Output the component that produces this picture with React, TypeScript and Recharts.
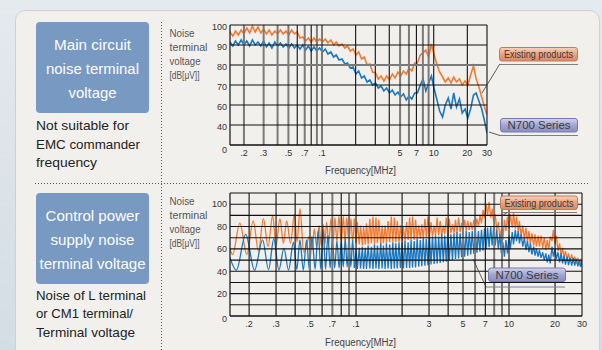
import React from 'react';
import { LineChart, Line, XAxis, YAxis, ReferenceLine } from 'recharts';

const FONT = "'Liberation Sans', Arial, Helvetica, sans-serif";
const ORANGE = '#f37a30';
const BLUE = '#1a78c2';

// ---- main circuit noise terminal voltage (MHz / dB) ----
const freqMain = [
  0.15, 0.159, 0.168, 0.178, 0.189, 0.2, 0.212, 0.225, 0.238, 0.252,
  0.267, 0.283, 0.3, 0.318, 0.336, 0.356, 0.378, 0.4, 0.424, 0.449,
  0.476, 0.504, 0.534, 0.566, 0.599, 0.635, 0.673, 0.713, 0.755, 0.8,
  0.847, 0.898, 0.951, 1.01, 1.07, 1.13, 1.2, 1.27, 1.34, 1.42,
  1.51, 1.6, 1.69, 1.79, 1.9, 2.01, 2.13, 2.26, 2.39, 2.53,
  2.68, 2.84, 3.01, 3.19, 3.38, 3.58, 3.79, 4.02, 4.26, 4.51,
  4.78, 5.06, 5.36, 5.68, 6.02, 6.37, 6.75, 7.15, 7.58, 8.03,
  8.5, 9.01, 9.54, 10.1, 10.7, 11.3, 12, 12.7, 13.5, 14.3,
  15.1, 16, 17, 18, 19.1, 20.2, 21.4, 22.7, 24, 25.4,
  26.9, 28.5, 30,
];
const existingMain = [
  96.5, 94.5, 97, 95, 97.5, 95.5, 98.5, 96, 99.5, 96.5,
  99, 96, 98, 95.5, 97.5, 95, 97, 95.5, 97.5, 95.5,
  97, 95, 97.5, 95.5, 96.5, 93.5, 94, 92, 93.5, 91.5,
  93.5, 91.5, 93, 91.5, 93, 91, 92.5, 90, 91.5, 89.5,
  90.5, 88.5, 89.5, 87, 88, 85, 86.5, 83, 84, 80,
  80.5, 76.5, 76, 73, 74.5, 72, 74.5, 72.5, 75.5, 73.5,
  76.5, 74.5, 77, 75.5, 78.5, 77, 81, 81, 85, 86,
  87.5, 84, 90.5, 85, 80, 76.5, 74, 71.5, 73.5, 71,
  74, 71.5, 73, 70, 72, 70, 75, 79.5, 73, 69,
  64, 59, 55,
];
const n700Main = [
  91.5, 89.5, 92, 90, 92.5, 90, 92, 89.5, 92.5, 90,
  91.5, 89.5, 92, 89, 91, 88.5, 91.5, 89.5, 91, 89,
  90.5, 88.5, 90.5, 88.5, 90, 88, 90, 87.5, 89.5, 87,
  89, 87, 88.5, 86.5, 88, 85.5, 86.5, 84, 85, 82.5,
  83, 80.5, 81, 78.5, 79, 75.5, 77, 73.5, 74.5, 71.5,
  72.5, 70, 71, 68.5, 69.5, 67, 68.5, 66, 67.5, 65,
  66.5, 64, 65.5, 62.5, 64.5, 63, 66, 66, 70, 73,
  67, 71, 74.5, 68, 62.5, 57, 54, 60, 63.5, 58,
  66, 59, 63, 56, 58, 53.5, 58, 65, 66, 62,
  58, 52, 46,
];

// ---- control power supply noise terminal voltage ----
// ripple peaks / troughs below 1 MHz: [MHz, dB]
const existingCtrlLow: [number, number][] = [
  [0.15, 60], [0.156, 55], [0.174, 83], [0.193, 55], [0.213, 85], [0.23, 58],
  [0.248, 87], [0.266, 62], [0.285, 90], [0.3, 63], [0.318, 87], [0.335, 65],
  [0.352, 85], [0.373, 65], [0.395, 91], [0.412, 66], [0.43, 96], [0.455, 57],
  [0.5, 72], [0.517, 60], [0.533, 78], [0.553, 62], [0.573, 81], [0.592, 63],
  [0.611, 82], [0.626, 64], [0.642, 84], [0.664, 65], [0.686, 87], [0.707, 66],
  [0.728, 88], [0.75, 66], [0.773, 89], [0.8, 66], [0.826, 89], [0.848, 66],
  [0.869, 88], [0.898, 66], [0.927, 87], [0.95, 66], [0.974, 87],
];
const n700CtrlLow: [number, number][] = [
  [0.15, 52], [0.165, 41], [0.19, 73], [0.217, 41], [0.245, 68], [0.268, 41.5],
  [0.29, 69], [0.313, 41], [0.338, 60.5], [0.362, 41], [0.39, 66], [0.41, 41.5],
  [0.43, 68], [0.452, 41], [0.475, 68], [0.495, 41.5], [0.515, 71], [0.54, 42],
  [0.566, 76], [0.588, 42], [0.61, 77], [0.632, 42], [0.655, 72], [0.677, 43],
  [0.7, 68], [0.725, 43], [0.75, 67], [0.775, 43], [0.8, 67], [0.825, 44],
  [0.85, 69], [0.875, 44], [0.9, 69], [0.925, 44], [0.95, 68], [0.975, 43],
];
// dense part from 1 MHz up
const freqCtrl = [
  1, 1.02, 1.05, 1.07, 1.1, 1.12, 1.15, 1.17, 1.2, 1.23,
  1.26, 1.29, 1.32, 1.35, 1.38, 1.41, 1.45, 1.48, 1.51, 1.55,
  1.58, 1.62, 1.66, 1.7, 1.74, 1.78, 1.82, 1.86, 1.91, 1.95,
  2, 2.04, 2.09, 2.14, 2.19, 2.24, 2.29, 2.34, 2.4, 2.45,
  2.51, 2.57, 2.63, 2.69, 2.75, 2.82, 2.88, 2.95, 3.02, 3.09,
  3.16, 3.24, 3.31, 3.39, 3.47, 3.55, 3.63, 3.72, 3.8, 3.89,
  3.98, 4.07, 4.17, 4.27, 4.37, 4.47, 4.57, 4.68, 4.79, 4.9,
  5.01, 5.13, 5.25, 5.37, 5.5, 5.62, 5.75, 5.89, 6.03, 6.17,
  6.31, 6.46, 6.61, 6.76, 6.92, 7.08, 7.24, 7.41, 7.59, 7.76,
  7.94, 8.13, 8.32, 8.51, 8.71, 8.91, 9.12, 9.33, 9.55, 9.77,
  10, 10.2, 10.5, 10.7, 11, 11.2, 11.5, 11.7, 12, 12.3,
  12.6, 12.9, 13.2, 13.5, 13.8, 14.1, 14.5, 14.8, 15.1, 15.5,
  15.8, 16.2, 16.6, 17, 17.4, 17.8, 18.2, 18.6, 19.1, 19.5,
  20, 20.4, 20.9, 21.4, 21.9, 22.4, 22.9, 23.4, 24, 24.5,
  25.1, 25.7, 26.3, 26.9, 27.5, 28.2, 28.8, 29.5, 30,
];
const existingCtrl = [
  65, 84, 64, 81, 63, 80, 64, 83, 64, 87,
  65, 89, 64, 88, 65, 86, 64, 81, 65, 81,
  65, 85, 66, 89, 66, 88, 66, 85, 66, 81,
  67, 80, 67, 84, 68, 88, 68, 89, 68, 86,
  69, 81, 69, 82, 70, 87, 70, 89, 71, 84,
  71, 81, 72, 88, 72, 85, 72, 81, 73, 88,
  73, 87, 74, 82, 74, 86, 74, 88, 75, 83,
  76, 86, 76, 85, 77, 84, 77, 86, 78, 87,
  80, 90, 83, 95, 88, 100, 90, 102, 88, 96,
  84, 91, 77, 84, 70, 78, 68, 86, 76, 89,
  78, 91, 79, 92, 78, 89, 75, 85, 71, 81,
  68, 79, 66, 76, 64, 74, 63, 73, 62, 72,
  62, 72, 61, 70, 59, 68, 60, 71, 67, 77,
  64, 72, 58, 65, 54, 61, 52, 58, 50, 56,
  49, 55, 48, 53, 47, 52, 46, 50, 47,
];
const n700Ctrl = [
  60, 42, 61, 42.5, 62, 42, 61, 42, 63, 42.5,
  62, 42, 64, 42.5, 63, 42, 65, 42.5, 63, 42,
  65, 42.5, 64, 42, 66, 42.5, 65, 42.5, 66, 43,
  66, 42.5, 67, 43, 66, 43, 68, 43.5, 67, 43.5,
  69, 44, 68, 44.5, 70, 45, 69, 45.5, 71, 46,
  71, 46.5, 72, 47, 71, 47.5, 73, 48, 72, 48.5,
  74, 49.5, 73, 50, 74, 51, 75, 51.5, 74, 52.5,
  75, 53, 76, 54, 75, 55, 76, 55.5, 75.5, 56.5,
  76, 57.5, 77, 58.5, 78.5, 60, 79, 61.5, 80, 63,
  79, 63, 77, 60, 73, 56, 66, 53, 68, 56,
  72, 60, 75, 64, 77, 67, 76, 65, 73, 62,
  70, 59, 67, 57, 65, 55, 62, 54, 60, 53,
  59, 52, 57, 50, 56, 48, 55, 47, 62, 53,
  60, 51, 57, 48, 56, 47, 54, 46, 53, 45.5,
  52, 45, 52, 45, 51, 44.5, 50, 44, 49,
];

// ---- axes ----
const xGrid = [0.2, 0.3, 0.4, 0.5, 0.6, 0.7, 0.8, 0.9, 1, 2, 3, 4, 5, 6, 7, 8, 9, 10, 20, 30];
const xLabelsMain: Record<string, string> = {
  '0.2': '.2', '0.3': '.3', '0.5': '.5', '0.7': '.7', '1': '.1',
  '5': '5', '7': '7', '10': '10', '20': '20', '30': '30',
};
const xLabelsCtrl: Record<string, string> = {
  '0.2': '.2', '0.3': '.3', '0.5': '.5', '0.7': '.7', '1': '.1',
  '3': '3', '5': '5', '7': '7', '10': '10', '20': '20', '30': '30',
};
const yTicksMain = [40, 50, 60, 70, 80, 90, 100];
const yLabelsMain: Record<string, string> = {
  '40': '0', '50': '40', '60': '60', '70': '70', '80': '80', '90': '90', '100': '100',
};
const yTicksCtrl = [0, 10, 20, 30, 40, 50, 60, 70, 80, 90, 100, 110];
const yLabelsCtrl: Record<string, string> = {
  '0': '0', '20': '20', '40': '40', '60': '60', '80': '80', '100': '100',
};

// grid lines that print as wide grey rules instead of thin black ones
const softXMain = [0.2, 0.3, 0.4, 0.5, 0.7, 0.9, 1, 5, 6, 8, 9];
const softYMain = [80];
const softXCtrl = [0.5, 0.7, 0.9, 5, 6, 8, 9];
const softYCtrl: number[] = [];

const toPts = (f: number[], v: number[]) => f.map((x, i) => ({ f: x, v: v[i] }));
const pairPts = (p: [number, number][]) => p.map(([f, v]) => ({ f, v }));

const existingMainPts = toPts(freqMain, existingMain);
const n700MainPts = toPts(freqMain, n700Main);
const existingLowPts = pairPts(existingCtrlLow);
const n700LowPts = pairPts(n700CtrlLow);
// dense part starts from the last ripple point so the trace stays joined
const existingDensePts = [existingLowPts[existingLowPts.length - 1], ...toPts(freqCtrl, existingCtrl)];
const n700DensePts = [n700LowPts[n700LowPts.length - 1], ...toPts(freqCtrl, n700Ctrl)];

const xTick = (labels: Record<string, string>) => (props: any) => {
  const { x, y, payload } = props;
  const label = labels[String(payload.value)];
  if (!label) return <g />;
  return (
    <text x={x} y={y} dy={10.5} textAnchor="middle" fontSize={9} fill="#333" fontFamily={FONT}>
      {label}
    </text>
  );
};

const yTick = (labels: Record<string, string>, min: number, dy: number) => (props: any) => {
  const { x, y, payload } = props;
  const label = labels[String(payload.value)];
  if (!label) return <g />;
  return (
    <text x={x} y={y} dy={payload.value === min ? dy + 3 : dy} textAnchor="end" fontSize={9} fill="#333" fontFamily={FONT}>
      {label}
    </text>
  );
};

const gridLines = (xs: number[], ys: number[], softX: number[], softY: number[]) => [
  ...xs.map((v) => (
    <ReferenceLine key={`x${v}`} x={v} ifOverflow="extendDomain"
      stroke={softX.includes(v) ? '#7a7a7a' : '#111'} strokeWidth={softX.includes(v) ? 2 : 1.1} />
  )),
  ...ys.map((v) => (
    <ReferenceLine key={`y${v}`} y={v} ifOverflow="extendDomain"
      stroke={softY.includes(v) ? '#7a7a7a' : '#111'} strokeWidth={softY.includes(v) ? 2 : 1.1} />
  )),
];

const T = ({ x, y, w, size, fill = '#222', anchor = 'start', children }: any) => (
  <text x={x} y={y} fontSize={size} fill={fill} textAnchor={anchor} textLength={w}
    lengthAdjust="spacingAndGlyphs" fontFamily={FONT}>
    {children}
  </text>
);

const AxisTitle = ({ top }: { top: number }) => (
  <g>
    <T x={169.5} y={top} w={25} size={10.5} fill="#555">Noise</T>
    <T x={169.5} y={top + 14} w={38} size={10.5} fill="#555">terminal</T>
    <T x={169.5} y={top + 28} w={31} size={10.5} fill="#555">voltage</T>
    <T x={169.5} y={top + 42} w={30} size={10.5} fill="#555">[dB[μV]]</T>
  </g>
);

const Backdrop = () => (
  <svg width={602} height={350} style={{ position: 'absolute', left: 0, top: 0 }}>
    <defs>
      <linearGradient id="pageBg" x1="0" y1="0" x2="0" y2="1">
        <stop offset="0" stopColor="#e4eaee" />
        <stop offset="1" stopColor="#d3dde4" />
      </linearGradient>
    </defs>
    <rect width={602} height={350} fill="url(#pageBg)" />
    <rect x={15.5} y={10.5} width={584} height={370} rx={10} fill="#f2f0ed" stroke="#cdd1d4" />

    {/* left column */}
    <rect x={36} y={22} width={113} height={91} rx={4} fill="#7799c2" />
    <T x={92.5} y={50} w={77} size={15} fill="#fff" anchor="middle">Main circuit</T>
    <T x={92.5} y={74} w={93} size={15} fill="#fff" anchor="middle">noise terminal</T>
    <T x={92.5} y={97.5} w={48} size={15} fill="#fff" anchor="middle">voltage</T>
    <T x={36} y={130} w={93} size={13.5}>Not suitable for</T>
    <T x={36} y={148.5} w={104} size={13.5}>EMC commander</T>
    <T x={36} y={166.5} w={61} size={13.5}>frequency</T>

    <rect x={36} y={193} width={113} height={91} rx={4} fill="#7799c2" />
    <T x={92.5} y={221} w={94} size={15} fill="#fff" anchor="middle">Control power</T>
    <T x={92.5} y={244.5} w={84} size={15} fill="#fff" anchor="middle">supply noise</T>
    <T x={92.5} y={268.5} w={106} size={15} fill="#fff" anchor="middle">terminal voltage</T>
    <T x={36} y={300} w={110} size={13.5}>Noise of L terminal</T>
    <T x={36} y={318} w={97} size={13.5}>or CM1 terminal/</T>
    <T x={36} y={337} w={99} size={13.5}>Terminal voltage</T>

    {/* dotted separators */}
    <line x1={161.5} y1={22} x2={161.5} y2={350} stroke="#555" strokeDasharray="1 2" />
    <line x1={35} y1={183.5} x2={590} y2={183.5} stroke="#555" strokeDasharray="1 2" />

    <AxisTitle top={36.5} />
    <AxisTitle top={204.5} />
    <T x={325} y={173.5} w={71} size={10} fill="#444">Frequency[MHz]</T>
    <T x={325} y={345.5} w={71} size={10} fill="#444">Frequency[MHz]</T>
  </svg>
);

const Callout = ({ x, y, w, label, tw, size, kind }: any) => (
  <g>
    <rect x={x + 0.5} y={y + 0.5} width={w} height={13.5} rx={2.5}
      fill={`url(#${kind})`} stroke={kind === 'gOrange' ? '#c47a58' : '#767aae'} />
    <T x={x + 0.5 + w / 2} y={y + 11} w={tw} size={size} fill="#3a3a3a" anchor="middle">{label}</T>
  </g>
);

const Callouts = () => (
  <svg width={602} height={350} style={{ position: 'absolute', left: 0, top: 0, pointerEvents: 'none' }}>
    <defs>
      <linearGradient id="gOrange" x1="0" y1="0" x2="0" y2="1">
        <stop offset="0" stopColor="#f8d3c0" />
        <stop offset="0.5" stopColor="#eba081" />
        <stop offset="1" stopColor="#dc8964" />
      </linearGradient>
      <linearGradient id="gBlue" x1="0" y1="0" x2="0" y2="1">
        <stop offset="0" stopColor="#d2d4ec" />
        <stop offset="0.5" stopColor="#a3a5d0" />
        <stop offset="1" stopColor="#8a8dbf" />
      </linearGradient>
    </defs>
    {/* main circuit */}
    <line x1={499} y1={64.5} x2={578} y2={64.5} stroke="#808080" />
    <line x1={482} y1={93} x2={499.5} y2={64.5} stroke="#333" strokeWidth={0.8} />
    <Callout x={499} y={47} w={78} label="Existing products" tw={69} size={10} kind="gOrange" />
    <line x1={500} y1={135.5} x2={578} y2={135.5} stroke="#808080" />
    <line x1={489} y1={132} x2={500} y2={135.5} stroke="#333" strokeWidth={0.8} />
    <Callout x={500} y={118} w={77} label="N700 Series" tw={63} size={11.5} kind="gBlue" />
    {/* control power supply */}
    <line x1={502} y1={212.5} x2={577} y2={212.5} stroke="#808080" />
    <line x1={502} y1={216} x2={507} y2={212.5} stroke="#333" strokeWidth={0.8} />
    <Callout x={500} y={195.5} w={77} label="Existing products" tw={69} size={10} kind="gOrange" />
    <line x1={486} y1={287} x2={565} y2={287} stroke="#808080" />
    <line x1={473} y1={259} x2={486} y2={287} stroke="#333" strokeWidth={0.8} />
    <Callout x={488} y={267.5} w={77} label="N700 Series" tw={63} size={11.5} kind="gBlue" />
  </svg>
);

const axisLine = { stroke: '#111', strokeWidth: 1.2 };

export default function App() {
  return (
    <div style={{ position: 'absolute', left: 0, top: 0, width: 602, height: 350, overflow: 'hidden', fontFamily: FONT }}>
      <Backdrop />

      <div style={{ position: 'absolute', left: 190, top: 15 }}>
        <LineChart width={310} height={170} margin={{ top: 10, right: 13, bottom: 10, left: 0 }}>
          <XAxis dataKey="f" type="number" scale="log" domain={[0.15, 30]} allowDataOverflow
            ticks={xGrid} interval={0} height={30} tickLine={false} tickSize={0} tickMargin={0}
            axisLine={axisLine} tick={xTick(xLabelsMain)} />
          <YAxis type="number" domain={[40, 100]} ticks={yTicksMain} interval={0} width={40}
            tickLine={false} tickSize={0} tickMargin={3} axisLine={axisLine}
            tick={yTick(yLabelsMain, 40, 5)} />
          <Line data={existingMainPts} dataKey="v" type="linear" stroke={ORANGE} strokeWidth={1.6}
            dot={false} activeDot={false} isAnimationActive={false} />
          <Line data={n700MainPts} dataKey="v" type="linear" stroke={BLUE} strokeWidth={1.6}
            dot={false} activeDot={false} isAnimationActive={false} />
          {gridLines(xGrid, yTicksMain, softXMain, softYMain)}
        </LineChart>
      </div>

      <div style={{ position: 'absolute', left: 190, top: 183 }}>
        <LineChart width={405} height={173} margin={{ top: 10, right: 13, bottom: 10, left: 0 }}>
          <XAxis dataKey="f" type="number" scale="log" domain={[0.15, 30]} allowDataOverflow
            ticks={xGrid} interval={0} height={30} tickLine={false} tickSize={0} tickMargin={0}
            axisLine={axisLine} tick={xTick(xLabelsCtrl)} />
          <YAxis type="number" domain={[0, 110]} ticks={yTicksCtrl} interval={0} width={40}
            tickLine={false} tickSize={0} tickMargin={3} axisLine={axisLine}
            tick={yTick(yLabelsCtrl, 0, 3.3)} />
          <Line data={existingLowPts} dataKey="v" type="monotone" stroke={ORANGE} strokeWidth={1.3}
            dot={false} activeDot={false} isAnimationActive={false} />
          <Line data={existingDensePts} dataKey="v" type="linear" stroke={ORANGE} strokeWidth={1.3}
            dot={false} activeDot={false} isAnimationActive={false} />
          <Line data={n700LowPts} dataKey="v" type="monotone" stroke={BLUE} strokeWidth={1.3}
            dot={false} activeDot={false} isAnimationActive={false} />
          <Line data={n700DensePts} dataKey="v" type="linear" stroke={BLUE} strokeWidth={1.3}
            dot={false} activeDot={false} isAnimationActive={false} />
          {gridLines(xGrid, yTicksCtrl, softXCtrl, softYCtrl)}
        </LineChart>
      </div>

      <Callouts />
    </div>
  );
}
